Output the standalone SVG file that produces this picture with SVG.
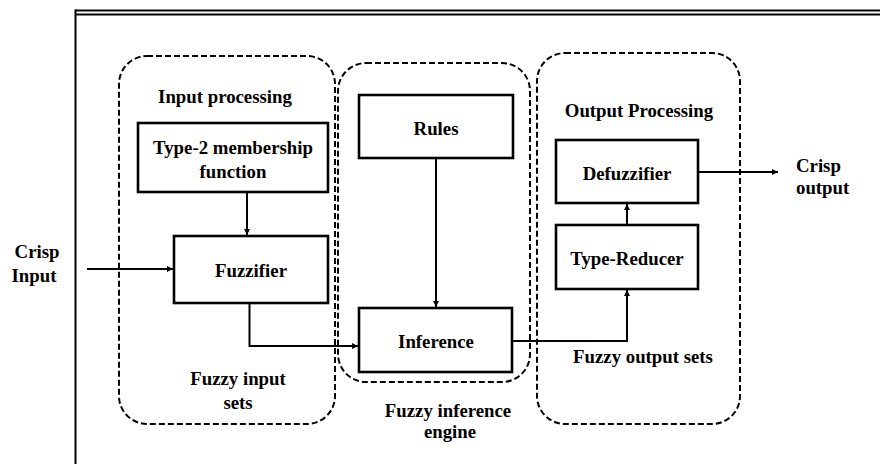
<svg xmlns="http://www.w3.org/2000/svg" width="880" height="464" viewBox="0 0 880 464">
  <defs>
    <style>
      .frame { fill: none; stroke: #000; }
      .zone { fill: none; stroke: #000; stroke-width: 2; stroke-dasharray: 6 3; }
      .box { fill: #fff; stroke: #000; stroke-width: 2.6; }
      .wire { fill: none; stroke: #000; stroke-width: 2; }
      text { font-family: "Liberation Serif", "Times New Roman", serif; font-weight: bold; font-size: 18.8px; fill: #000; }
      .c { text-anchor: middle; }
    </style>
    <marker id="arrow" viewBox="0 0 10 10" refX="10" refY="5" markerWidth="6" markerHeight="6" markerUnits="userSpaceOnUse" orient="auto">
      <path d="M0,0 L10,5 L0,10 z" fill="#000"/>
    </marker>
  </defs>

  <rect width="880" height="464" fill="#fff"/>

  <!-- page frame: double rule on top, single rule on the left -->
  <g id="frame">
    <line class="frame" x1="75" y1="10.5" x2="880" y2="10.5" stroke-width="2"/>
    <line class="frame" x1="75" y1="14.5" x2="880" y2="14.5" stroke-width="2"/>
    <line class="frame" x1="75.5" y1="9.5" x2="75.5" y2="464" stroke-width="2"/>
  </g>

  <!-- dashed stage outlines -->
  <g id="input-processing">
    <rect class="zone" x="119" y="56" width="216" height="368" rx="28"/>
    <text class="c" x="225" y="103">Input processing</text>
    <text class="c" x="238" y="385">Fuzzy input</text>
    <text class="c" x="238" y="409">sets</text>
  </g>
  <g id="fuzzy-inference-engine">
    <rect class="zone" x="338" y="63" width="192" height="319" rx="28"/>
    <text class="c" x="448" y="417">Fuzzy inference</text>
    <text class="c" x="450" y="438">engine</text>
  </g>
  <g id="output-processing">
    <rect class="zone" x="537" y="53" width="203" height="371" rx="28"/>
    <text class="c" x="639" y="117">Output Processing</text>
    <text class="c" x="643" y="363">Fuzzy output sets</text>
  </g>

  <!-- blocks -->
  <g id="membership">
    <rect class="box" x="138" y="123" width="190" height="69"/>
    <text class="c" x="233" y="154">Type-2 membership</text>
    <text class="c" x="233" y="178">function</text>
  </g>
  <g id="fuzzifier">
    <rect class="box" x="174" y="236" width="154" height="67"/>
    <text class="c" x="251" y="277">Fuzzifier</text>
  </g>
  <g id="rules">
    <rect class="box" x="359" y="95" width="154" height="63"/>
    <text class="c" x="436" y="135">Rules</text>
  </g>
  <g id="inference">
    <rect class="box" x="359" y="308" width="153" height="64"/>
    <text class="c" x="436" y="348">Inference</text>
  </g>
  <g id="type-reducer">
    <rect class="box" x="556" y="225" width="142" height="64"/>
    <text class="c" x="627" y="265">Type-Reducer</text>
  </g>
  <g id="defuzzifier">
    <rect class="box" x="556" y="140" width="142" height="63"/>
    <text class="c" x="627" y="180">Defuzzifier</text>
  </g>

  <!-- external terminals -->
  <g id="crisp-input">
    <text class="c" x="37" y="258">Crisp</text>
    <text class="c" x="34" y="282">Input</text>
  </g>
  <g id="crisp-output">
    <text x="796" y="172">Crisp</text>
    <text x="796" y="194">output</text>
  </g>

  <!-- connectors -->
  <g id="connectors">
    <line class="wire" x1="87" y1="269" x2="173" y2="269" marker-end="url(#arrow)"/>
    <line class="wire" x1="247" y1="192" x2="247" y2="235" marker-end="url(#arrow)"/>
    <polyline class="wire" points="249.5,303 249.5,346 358,346" marker-end="url(#arrow)"/>
    <line class="wire" x1="436" y1="158" x2="436" y2="307" marker-end="url(#arrow)"/>
    <polyline class="wire" points="512,341 627,341 627,290" marker-end="url(#arrow)"/>
    <line class="wire" x1="627" y1="225" x2="627" y2="204" marker-end="url(#arrow)"/>
    <line class="wire" x1="698" y1="172" x2="778" y2="172" marker-end="url(#arrow)"/>
  </g>
</svg>
